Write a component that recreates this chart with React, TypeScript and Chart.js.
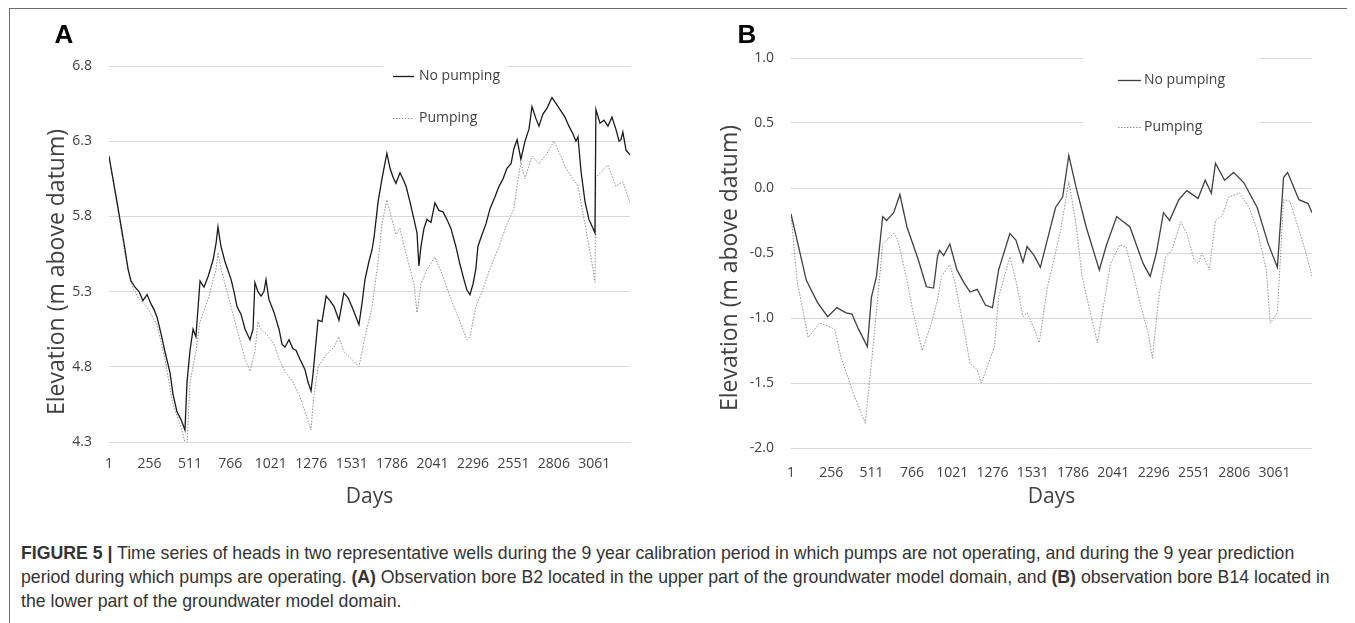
import React, { useEffect, useRef } from "react";
import { Chart, registerables } from "chart.js";

Chart.register(...registerables);

// ---------- data ----------
const seriesNames = ["No pumping", "Pumping"];
const tickDays = [1, 256, 511, 766, 1021, 1276, 1531, 1786, 2041, 2296, 2551, 2806, 3061];

// Panel A – bore B2
const daysA_noPump = [1,51,102,121,140,165,190,215,241,265,285,304,329,354,386,404,430,455,480,493,512,531,549,575,600,626,657,676,688,707,732,771,789,808,833,859,890,909,921,940,960,978,991,1009,1042,1073,1092,1110,1136,1161,1180,1205,1237,1255,1275,1287,1319,1344,1370,1394,1420,1451,1470,1482,1508,1533,1559,1577,1596,1615,1640,1660,1672,1698,1722,1753,1773,1792,1810,1836,1854,1874,1898,1924,1943,1955,1968,1987,2006,2031,2056,2081,2107,2132,2157,2188,2214,2239,2258,2277,2296,2314,2327,2353,2378,2403,2435,2460,2486,2510,2536,2554,2574,2598,2624,2649,2668,2693,2712,2737,2763,2794,2820,2851,2876,2901,2926,2945,2958,2977,3002,3027,3053,3065,3071,3097,3122,3147,3172,3197,3217,3229,3241,3261,3286];
const elevA_noPump = [6.20,5.90,5.58,5.45,5.37,5.33,5.30,5.24,5.28,5.22,5.18,5.13,5.02,4.90,4.76,4.62,4.50,4.45,4.38,4.70,4.91,5.05,5.00,5.37,5.33,5.40,5.51,5.62,5.73,5.60,5.50,5.38,5.30,5.20,5.15,5.05,4.98,5.05,5.36,5.30,5.27,5.30,5.38,5.25,5.16,5.05,4.95,4.93,4.98,4.92,4.91,4.85,4.78,4.70,4.64,4.75,5.11,5.10,5.27,5.24,5.20,5.11,5.22,5.29,5.26,5.20,5.13,5.08,5.22,5.38,5.50,5.58,5.66,5.90,6.05,6.22,6.12,6.06,6.02,6.09,6.05,6.00,5.90,5.78,5.69,5.47,5.60,5.72,5.78,5.76,5.89,5.84,5.83,5.78,5.72,5.60,5.48,5.38,5.31,5.28,5.35,5.45,5.60,5.68,5.75,5.85,5.93,6.00,6.05,6.12,6.15,6.25,6.31,6.18,6.30,6.38,6.53,6.45,6.40,6.48,6.52,6.59,6.55,6.50,6.46,6.40,6.35,6.30,6.33,6.10,5.90,5.78,5.72,5.69,6.51,6.42,6.44,6.40,6.46,6.38,6.30,6.31,6.36,6.24,6.21];
const daysA_pump = [1,51,102,140,190,241,265,304,354,404,455,480,493,512,549,575,626,676,688,707,771,808,859,890,921,940,960,991,1042,1073,1110,1161,1205,1237,1275,1287,1319,1370,1420,1451,1482,1533,1577,1615,1660,1698,1722,1753,1792,1810,1836,1874,1924,1943,1968,2006,2056,2107,2157,2214,2258,2277,2314,2353,2403,2460,2510,2554,2574,2598,2624,2668,2712,2763,2807,2851,2876,2926,2958,3002,3053,3065,3071,3109,3147,3197,3241,3286];
const elevA_pump = [6.20,5.88,5.55,5.35,5.25,5.20,5.15,5.08,4.85,4.55,4.40,4.30,4.30,4.70,4.90,5.10,5.25,5.45,5.56,5.45,5.20,5.05,4.85,4.77,4.90,5.10,5.05,5.02,4.95,4.85,4.77,4.70,4.60,4.50,4.38,4.55,4.80,4.88,4.93,5.00,4.90,4.85,4.80,5.00,5.20,5.50,5.75,5.91,5.75,5.68,5.72,5.55,5.35,5.16,5.35,5.45,5.53,5.40,5.25,5.10,4.98,5.00,5.20,5.30,5.45,5.60,5.75,5.85,6.00,6.16,6.05,6.20,6.15,6.22,6.30,6.20,6.13,6.05,6.00,5.75,5.45,5.36,6.06,6.10,6.14,6.00,6.03,5.89];

// Panel B – bore B14
const daysB_noPump = [1,98,168,233,291,349,387,426,484,510,542,581,606,651,690,735,806,858,903,928,941,967,1006,1051,1096,1134,1180,1231,1276,1315,1386,1424,1469,1495,1540,1579,1675,1720,1759,1804,1869,1952,1997,2062,2146,2229,2274,2313,2358,2397,2455,2506,2577,2622,2661,2687,2745,2802,2867,2951,3021,3079,3118,3144,3215,3273,3298];
const elevB_noPump = [-0.20,-0.71,-0.88,-0.99,-0.92,-0.96,-0.97,-1.08,-1.22,-0.84,-0.68,-0.22,-0.25,-0.19,-0.05,-0.30,-0.55,-0.76,-0.77,-0.53,-0.48,-0.52,-0.43,-0.63,-0.73,-0.80,-0.78,-0.90,-0.92,-0.63,-0.35,-0.40,-0.57,-0.45,-0.52,-0.61,-0.15,-0.07,0.25,0.01,-0.30,-0.63,-0.44,-0.22,-0.30,-0.58,-0.68,-0.50,-0.19,-0.25,-0.09,-0.02,-0.08,0.06,-0.04,0.19,0.06,0.12,0.04,-0.15,-0.43,-0.61,0.08,0.12,-0.09,-0.12,-0.19];
const daysB_pump = [1,40,110,181,252,278,317,387,471,510,555,581,651,677,735,774,832,890,928,954,1006,1038,1096,1134,1180,1205,1244,1289,1315,1386,1424,1469,1495,1553,1572,1624,1650,1708,1759,1804,1843,1901,1940,1985,2023,2081,2120,2165,2204,2262,2288,2326,2371,2410,2468,2506,2551,2577,2603,2648,2687,2732,2770,2841,2899,2951,3009,3034,3079,3118,3157,3215,3260,3298];
const elevB_pump = [-0.20,-0.72,-1.15,-1.04,-1.07,-1.09,-1.30,-1.55,-1.81,-1.35,-0.78,-0.43,-0.35,-0.40,-0.71,-0.96,-1.25,-1.04,-0.86,-0.68,-0.59,-0.72,-1.09,-1.35,-1.40,-1.50,-1.37,-1.22,-0.84,-0.53,-0.71,-0.99,-0.96,-1.12,-1.19,-0.76,-0.63,-0.32,0.05,-0.27,-0.68,-0.99,-1.19,-0.86,-0.58,-0.44,-0.45,-0.65,-0.86,-1.12,-1.31,-0.86,-0.53,-0.48,-0.26,-0.35,-0.55,-0.58,-0.50,-0.63,-0.25,-0.21,-0.07,-0.04,-0.15,-0.32,-0.63,-1.04,-0.96,-0.09,-0.10,-0.32,-0.50,-0.68];

const yRangeA = [4.3, 6.8];
const yRangeB = [-2.0, 1.0];
const yStep = 0.5;
const xTitle = "Days";
const yTitle = "Elevation (m above datum)";

// ---------- helpers ----------
const toXY = (xs: number[], ys: number[]) => xs.map((x, i) => ({ x, y: ys[i] }));
const TEXT = "#404040";
const FONT = "'Open Sans', 'DejaVu Sans', sans-serif";

type Panel = {
  letter: string;
  daysNo: number[]; elevNo: number[]; daysP: number[]; elevP: number[];
  yRange: number[]; xMax: number;
  w: number; h: number; padTop: number; padRight: number;
  yW: number; xH: number; xTickPad: number; yTickPad: number; xTitlePad: number;
  letterX: number; letterY: number; yTitleX: number; yTitleY: number;
  lg: { x: number; y: number; w: number; h: number; rows: number[]; sx0: number; sx1: number; tx: number };
  noColor: string;
};

function makeDecor(p: Panel) {
  return {
    id: "panelDecor" + p.letter,
    afterDraw(chart: any) {
      const ctx = chart.ctx;
      ctx.save();
      ctx.fillStyle = "#000";
      ctx.font = "bold 26px 'Liberation Sans', Arial, sans-serif";
      ctx.textAlign = "center";
      ctx.textBaseline = "middle";
      ctx.fillText(p.letter, p.letterX, p.letterY);

      ctx.save();
      ctx.translate(p.yTitleX, p.yTitleY);
      ctx.rotate(-Math.PI / 2);
      ctx.fillStyle = TEXT;
      ctx.font = "23px " + FONT;
      ctx.fillText(yTitle, 0, 0);
      ctx.restore();

      const lg = p.lg;
      ctx.fillStyle = "#fff";
      ctx.fillRect(lg.x, lg.y, lg.w, lg.h);
      chart.data.datasets.forEach((ds: any, i: number) => {
        const ry = lg.rows[i];
        ctx.beginPath();
        ctx.strokeStyle = ds.borderColor;
        ctx.lineWidth = ds.borderWidth;
        ctx.setLineDash(ds.borderDash || []);
        ctx.moveTo(lg.sx0, ry + 0.5);
        ctx.lineTo(lg.sx1, ry + 0.5);
        ctx.stroke();
        ctx.setLineDash([]);
        ctx.fillStyle = TEXT;
        ctx.font = "14px " + FONT;
        ctx.textAlign = "left";
        ctx.textBaseline = "middle";
        ctx.fillText(ds.label, lg.tx, ry);
      });
      ctx.restore();
    },
  };
}

function PanelChart({ p, left }: { p: Panel; left: number }) {
  const ref = useRef<HTMLCanvasElement | null>(null);
  useEffect(() => {
    if (!ref.current) return;
    const chart = new Chart(ref.current, {
      type: "line",
      data: {
        datasets: [
          {
            label: seriesNames[0],
            data: toXY(p.daysNo, p.elevNo),
            borderColor: p.noColor,
            borderWidth: 1.3,
            pointRadius: 0,
            tension: 0,
            fill: false,
          },
          {
            label: seriesNames[1],
            data: toXY(p.daysP, p.elevP),
            borderColor: "#8f8f8f",
            borderWidth: 1,
            borderDash: [1.5, 1.5],
            pointRadius: 0,
            tension: 0,
            fill: false,
          },
        ],
      },
      options: {
        responsive: false,
        animation: false,
        events: [],
        layout: { padding: { left: 0, top: p.padTop, right: p.padRight, bottom: 0 } },
        plugins: { legend: { display: false }, tooltip: { enabled: false } },
        scales: {
          x: {
            type: "linear",
            min: 1,
            max: p.xMax,
            grid: { display: false },
            border: { display: false },
            afterBuildTicks: (s: any) => {
              s.ticks = tickDays.map((v) => ({ value: v }));
            },
            afterFit: (s: any) => {
              s.height = p.xH;
            },
            ticks: {
              autoSkip: false,
              maxRotation: 0,
              minRotation: 0,
              padding: p.xTickPad,
              color: TEXT,
              font: { family: FONT, size: 14 },
              callback: (v: any) => String(v),
            },
            title: {
              display: true,
              text: xTitle,
              color: TEXT,
              font: { family: FONT, size: 21 },
              padding: { top: 0, bottom: p.xTitlePad },
            },
          },
          y: {
            type: "linear",
            min: p.yRange[0],
            max: p.yRange[1],
            grid: { color: "#d9d9d9", lineWidth: 1, drawTicks: false },
            border: { display: false },
            afterFit: (s: any) => {
              s.width = p.yW;
            },
            ticks: {
              stepSize: yStep,
              padding: p.yTickPad,
              color: TEXT,
              font: { family: FONT, size: 14 },
              callback: (v: any) => Number(v).toFixed(1),
            },
          },
        },
      },
      plugins: [makeDecor(p)],
    } as any);
    return () => chart.destroy();
  }, []);
  return (
    <canvas
      ref={ref}
      width={p.w}
      height={p.h}
      style={{ position: "absolute", left, top: 0, width: p.w, height: p.h }}
    />
  );
}

const panelA: Panel = {
  letter: "A",
  daysNo: daysA_noPump, elevNo: elevA_noPump, daysP: daysA_pump, elevP: elevA_pump,
  yRange: yRangeA, xMax: 3286,
  w: 665, h: 510, padTop: 57, padRight: 45,
  yW: 99, xH: 77, xTickPad: 6, yTickPad: 17, xTitlePad: 9,
  letterX: 54, letterY: 27, yTitleX: 47, yTitleY: 263,
  lg: { x: 373, y: 47, w: 125, h: 74, rows: [67, 109], sx0: 383, sx1: 404, tx: 409 },
  noColor: "#1a1a1a",
};

const panelB: Panel = {
  letter: "B",
  daysNo: daysB_noPump, elevNo: elevB_noPump, daysP: daysB_pump, elevP: elevB_pump,
  yRange: yRangeB, xMax: 3298,
  w: 672, h: 510, padTop: 49, padRight: 41,
  yW: 110, xH: 71, xTickPad: 9, yTickPad: 17, xTitlePad: 9,
  letterX: 66, letterY: 27, yTitleX: 49, yTitleY: 259,
  lg: { x: 402, y: 41, w: 177, h: 90, rows: [71, 118], sx0: 437, sx1: 460, tx: 463 },
  noColor: "#404040",
};

export default function App() {
  return (
    <div
      style={{
        position: "relative",
        width: 1344,
        height: 620,
        marginLeft: 1,
        border: "1px solid #6e6e6e",
        background: "#fff",
        overflow: "hidden",
      }}
    >
      <PanelChart p={panelA} left={0} />
      <PanelChart p={panelB} left={671} />
      <div
        style={{
          position: "absolute",
          left: 11,
          top: 532,
          fontFamily: "'Liberation Sans', Arial, sans-serif",
          fontSize: 17.7,
          lineHeight: "24px",
          color: "#333",
          whiteSpace: "nowrap",
        }}
      >
        <b>FIGURE 5 |</b> Time series of heads in two representative wells during the 9 year calibration period in which pumps are not operating, and during the 9 year prediction
        <br />
        period during which pumps are operating. <b>(A)</b> Observation bore B2 located in the upper part of the groundwater model domain, and <b>(B)</b> observation bore B14 located in
        <br />
        the lower part of the groundwater model domain.
      </div>
    </div>
  );
}
